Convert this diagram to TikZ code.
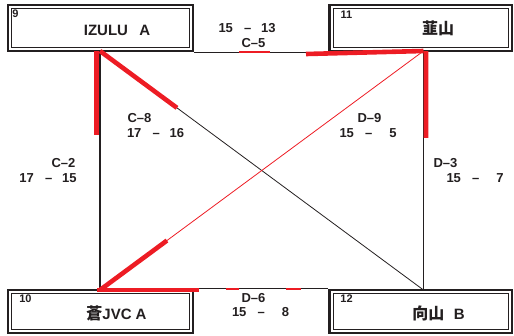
\documentclass[tikz,border=0pt]{standalone}
\usepackage{fontspec}
\setmainfont{Liberation Sans}
\newfontfamily\cjk{Noto Sans CJK JP}
\usetikzlibrary{calc}
\definecolor{ink}{HTML}{231F20}
\definecolor{hl}{HTML}{ED1C24}
\newcommand\scoreline[2]{\makebox[57pt][l]{#1\hfill\textendash\hfill\makebox[13pt][r]{#2}}}
\begin{document}
\begin{tikzpicture}[x=1pt,y=-1pt,
  teambox/.style={draw=ink, line width=2.6pt, fill=white, inner sep=0pt,
    path picture={\draw[ink,line width=0.8pt]
      ([shift={(3.5,3.5)}]path picture bounding box.north west) rectangle
      ([shift={(-3.5,-3.5)}]path picture bounding box.south east);}},
  seed/.style={font=\fontsize{11}{12}\selectfont\bfseries, text=ink, inner sep=0pt},
  team/.style={font=\fontsize{15}{16}\selectfont\bfseries, text=ink, inner sep=0pt},
  cjkteam/.style={font=\fontsize{16}{17}\selectfont\cjk\bfseries, text=ink, inner sep=0pt},
  score/.style={font=\fontsize{13}{14}\selectfont\bfseries, text=ink, inner sep=0pt},
  conn/.style={draw=ink, line width=1.5pt},
  diag/.style={line width=0.8pt},
  thick hl/.style={draw=hl, line width=4.6pt},
  thin hl/.style={draw=hl, line width=2pt}]
\useasboundingbox (0,0) rectangle (514,335);
% team boxes
\node[teambox, minimum width=185pt, minimum height=46pt] (n9) at (100.5,28) {};
\node[teambox, minimum width=182.5pt, minimum height=46pt] (n11) at (420.75,28) {};
\node[teambox, minimum width=185pt, minimum height=43pt] (n10) at (100.5,311.5) {};
\node[teambox, minimum width=182.5pt, minimum height=43pt] (n12) at (420.75,311.5) {};
% corner points
\coordinate (p9) at (100,51);
\coordinate (p11) at (423.5,51);
\coordinate (p10) at (100,290);
\coordinate (p12) at (423.5,290);
% connectors
\draw[conn] (n9.south east) -- (n11.south west);
\draw[conn] (n10.north east) -- (n12.north west);
\draw[conn] (p9) -- (p10);
\draw[conn] (p11) -- (p12);
\draw[diag, ink] (p9) -- (p12);
\draw[diag, hl] (p11) -- (p10);
% highlights
\draw[thick hl] ($(p9)+(-3.5,0)$) -- ($(p9)!0.35!(p10)+(-3.5,0)$);
\draw[thick hl] (p9) -- ($(p9)!0.238!(p12)$);
\draw[thick hl] ($(p11)+(-117.5,3)$) -- (p11);
\draw[thick hl] ($(p11)+(2.5,0)$) -- ($(p11)!0.364!(p12)+(2.5,0)$);
\draw[thick hl] (p10) -- ($(p10)!0.207!(p11)$);
\draw[thick hl] ($(p10)+(-3,0)$) -- ($(p10)+(99,0)$);
\draw[thin hl] ($(n9.south east)+(45,0)$) -- ($(n9.south east)+(76,0)$);
\draw[thin hl] ($(n10.north east)+(32,0)$) -- ($(n10.north east)+(45,0)$);
\draw[thin hl] ($(n10.north east)+(92,0)$) -- ($(n10.north east)+(107,0)$);
% seeds
\node[seed] (s9) at (15.5,14) {9};
\node[seed] (s11) at (346.5,15) {11};
\node[seed] (s10) at (25.5,298.5) {10};
\node[seed] (s12) at (346.5,299) {12};
% team names
\node[team] (t9) at (117,30) {IZULU\hspace{0.75em}A};
\node[cjkteam] (t11) at (438,28.5) {韮山};
\node[cjkteam] (t10) at (116.5,313.5) {蒼{\fontspec{Liberation Sans}\fontsize{15}{16}\selectfont\bfseries JVC A}};
\node[cjkteam] (t12) at (438.5,313) {向山\hspace{0.6em}{\fontspec{Liberation Sans}\fontsize{15}{16}\selectfont\bfseries B}};
% match labels
\node[score] (m5) at (247,28) {\scoreline{15}{13}};
\node[score] (c5) at (253.5,43.5) {C\textendash5};
\node[score] (c8) at (139.5,118.5) {C\textendash8};
\node[score] (m8) at (155.5,133.5) {\scoreline{17}{16}};
\node[score] (c2) at (63.5,163) {C\textendash2};
\node[score] (m2) at (48,178) {\scoreline{17}{15}};
\node[score] (d9) at (369.5,118.5) {D\textendash9};
\node[score] (m9) at (368,133.5) {\scoreline{15}{5}};
\node[score] (d3) at (445.5,163) {D\textendash3};
\node[score] (m3) at (475,178) {\scoreline{15}{7}};
\node[score] (d6) at (253.5,298) {D\textendash6};
\node[score] (m6) at (260.5,312) {\scoreline{15}{8}};
\end{tikzpicture}
\end{document}
